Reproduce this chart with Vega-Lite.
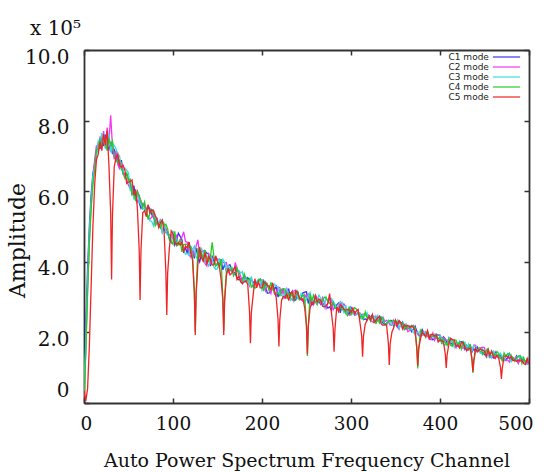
{
"$schema": "https://vega.github.io/schema/vega-lite/v6.json",
"width": 445,
"height": 353,
"autosize": {"type": "none"},
"padding": {"left": 84, "top": 50, "right": 16, "bottom": 69},
"background": "white",
"title": {"text": "x 10⁵", "anchor": "start", "frame": "group", "font": "DejaVu Serif", "fontSize": 20, "fontWeight": "normal", "color": "#111", "dx": -54, "offset": 8},
"config": {"view": {"stroke": null}},
"data": {"values": [
{"x":0,"C1":0.40,"C2":0.20,"C3":0.30,"C4":0.20,"C5":0.35},
{"x":2,"C1":2.10,"C2":1.50,"C3":1.70,"C4":1.40,"C5":0.05},
{"x":4,"C1":3.80,"C2":3.20,"C3":3.40,"C4":3.10,"C5":0.40},
{"x":6,"C1":5.00,"C2":4.60,"C3":4.80,"C4":4.50,"C5":1.60},
{"x":8,"C1":5.90,"C2":5.60,"C3":5.70,"C4":5.50,"C5":3.30},
{"x":10,"C1":6.50,"C2":6.30,"C3":6.40,"C4":6.20,"C5":5.00},
{"x":12,"C1":6.80,"C2":6.90,"C3":6.70,"C4":6.60,"C5":6.20},
{"x":14,"C1":7.10,"C2":7.30,"C3":7.00,"C4":7.20,"C5":6.90},
{"x":16,"C1":7.35,"C2":7.10,"C3":7.42,"C4":7.20,"C5":7.05},
{"x":18,"C1":7.20,"C2":7.55,"C3":7.30,"C4":7.48,"C5":7.40},
{"x":20,"C1":7.52,"C2":7.30,"C3":7.65,"C4":7.25,"C5":7.15},
{"x":22,"C1":7.28,"C2":7.70,"C3":7.45,"C4":7.60,"C5":7.62},
{"x":24,"C1":7.60,"C2":7.25,"C3":7.20,"C4":7.38,"C5":7.30},
{"x":26,"C1":7.30,"C2":7.80,"C3":7.55,"C4":7.15,"C5":7.72},
{"x":28,"C1":7.18,"C2":7.40,"C3":7.62,"C4":7.50,"C5":6.75},
{"x":30,"C1":7.40,"C2":8.15,"C3":7.10,"C4":7.30,"C5":5.36},
{"x":31,"C5":3.50},
{"x":32,"C1":7.05,"C2":7.25,"C3":7.35,"C4":7.42,"C5":5.33},
{"x":34,"C1":7.20,"C2":6.90,"C3":7.30,"C4":7.00,"C5":6.70},
{"x":36,"C1":6.85,"C2":7.15,"C3":7.20,"C4":6.92,"C5":6.95},
{"x":38,"C1":6.95,"C2":6.75,"C3":7.05,"C4":6.80,"C5":7.05},
{"x":40,"C1":6.64,"C2":6.64,"C3":7.00,"C4":6.87,"C5":6.73},
{"x":42,"C1":6.88,"C2":6.83,"C3":6.61,"C4":6.65,"C5":6.68},
{"x":44,"C1":6.49,"C2":6.56,"C3":6.55,"C4":6.51,"C5":6.73},
{"x":46,"C1":6.50,"C2":6.39,"C3":6.66,"C4":6.36,"C5":6.59},
{"x":48,"C1":6.49,"C2":6.35,"C3":6.60,"C4":6.51,"C5":6.22},
{"x":50,"C1":6.34,"C2":6.16,"C3":6.52,"C4":6.30,"C5":6.26},
{"x":52,"C1":6.24,"C2":6.07,"C3":6.00,"C4":6.34,"C5":6.27},
{"x":54,"C1":5.90,"C2":5.99,"C3":6.15,"C4":5.90,"C5":6.32},
{"x":56,"C1":6.16,"C2":5.89,"C3":5.78,"C4":5.98,"C5":5.89},
{"x":58,"C1":5.85,"C2":5.79,"C3":5.78,"C4":5.72,"C5":6.05},
{"x":60,"C1":5.99,"C2":5.69,"C3":5.99,"C4":6.01,"C5":5.51},
{"x":62,"C1":5.68,"C2":5.91,"C3":5.68,"C4":5.84,"C5":4.35},
{"x":63,"C5":2.92},
{"x":64,"C1":5.51,"C2":5.64,"C3":5.65,"C4":5.74,"C5":4.30},
{"x":66,"C1":5.62,"C2":5.66,"C3":5.49,"C4":5.53,"C5":5.39},
{"x":68,"C1":5.58,"C2":5.60,"C3":5.51,"C4":5.70,"C5":5.45},
{"x":70,"C1":5.48,"C2":5.32,"C3":5.36,"C4":5.48,"C5":5.28},
{"x":72,"C1":5.58,"C2":5.24,"C3":5.31,"C4":5.20,"C5":5.62},
{"x":74,"C1":5.50,"C2":5.21,"C3":5.16,"C4":5.36,"C5":5.38},
{"x":76,"C1":5.35,"C2":5.26,"C3":5.15,"C4":5.48,"C5":5.46},
{"x":78,"C1":5.26,"C2":5.44,"C3":5.02,"C4":5.38,"C5":5.46},
{"x":80,"C1":5.16,"C2":5.09,"C3":5.34,"C4":5.02,"C5":5.31},
{"x":82,"C1":5.22,"C2":5.19,"C3":5.08,"C4":5.11,"C5":5.20},
{"x":84,"C1":4.99,"C2":5.08,"C3":5.14,"C4":5.08,"C5":4.97},
{"x":86,"C1":5.00,"C2":5.21,"C3":5.18,"C4":4.96,"C5":5.12},
{"x":88,"C1":4.89,"C2":4.82,"C3":4.78,"C4":5.18,"C5":5.18},
{"x":90,"C1":4.93,"C2":5.02,"C3":5.11,"C4":5.02,"C5":4.86},
{"x":92,"C1":4.83,"C2":4.95,"C3":4.83,"C4":5.06,"C5":3.70},
{"x":93,"C5":2.49},
{"x":94,"C1":4.84,"C2":4.82,"C3":4.75,"C4":4.93,"C5":3.68},
{"x":96,"C1":4.65,"C2":4.76,"C3":4.74,"C4":4.61,"C5":4.41},
{"x":98,"C1":4.55,"C2":4.77,"C3":4.61,"C4":4.59,"C5":4.88},
{"x":100,"C1":4.83,"C2":4.70,"C3":4.88,"C4":4.50,"C5":4.79},
{"x":102,"C1":4.48,"C2":4.59,"C3":4.70,"C4":4.86,"C5":4.54},
{"x":104,"C1":4.61,"C2":4.77,"C3":4.65,"C4":4.45,"C5":4.49},
{"x":106,"C1":4.81,"C2":4.48,"C3":4.50,"C4":4.48,"C5":4.54},
{"x":108,"C1":4.72,"C2":4.63,"C3":4.56,"C4":4.61,"C5":4.47},
{"x":110,"C1":4.63,"C2":4.70,"C3":4.54,"C4":4.28,"C5":4.55},
{"x":112,"C1":4.25,"C2":4.85,"C3":4.38,"C4":4.49,"C5":4.27},
{"x":114,"C1":4.41,"C2":4.57,"C3":4.21,"C4":4.50,"C5":4.45},
{"x":116,"C1":4.24,"C2":4.56,"C3":4.24,"C4":4.49,"C5":4.40},
{"x":118,"C1":4.56,"C2":4.20,"C3":4.18,"C4":4.41,"C5":4.56},
{"x":120,"C1":4.26,"C2":4.13,"C3":4.44,"C4":4.42,"C5":4.26},
{"x":122,"C1":4.34,"C2":4.34,"C3":4.34,"C4":4.16,"C5":4.04},
{"x":124,"C1":4.10,"C2":4.15,"C3":4.44,"C4":3.15,"C5":3.10},
{"x":125,"C4":2.02,"C5":1.93},
{"x":126,"C1":4.39,"C2":4.45,"C3":4.14,"C4":3.14,"C5":3.09},
{"x":128,"C1":4.14,"C2":4.62,"C3":4.05,"C4":4.39,"C5":3.93},
{"x":130,"C1":4.00,"C2":4.16,"C3":4.25,"C4":4.15,"C5":4.42},
{"x":132,"C1":4.23,"C2":4.29,"C3":4.38,"C4":4.25,"C5":4.11},
{"x":134,"C1":4.01,"C2":4.31,"C3":4.26,"C4":4.04,"C5":4.02},
{"x":136,"C1":4.31,"C2":3.95,"C3":4.02,"C4":4.33,"C5":4.27},
{"x":138,"C1":4.24,"C2":3.88,"C3":3.96,"C4":4.10,"C5":3.92},
{"x":140,"C1":4.24,"C2":4.24,"C3":3.88,"C4":4.01,"C5":4.15},
{"x":142,"C1":3.88,"C2":3.93,"C3":4.15,"C4":4.11,"C5":4.08},
{"x":144,"C1":4.15,"C2":4.08,"C3":4.09,"C4":4.55,"C5":3.91},
{"x":146,"C1":4.01,"C2":4.12,"C3":3.85,"C4":4.15,"C5":3.92},
{"x":148,"C1":3.90,"C2":4.04,"C3":3.79,"C4":3.88,"C5":4.17},
{"x":150,"C1":3.94,"C2":4.08,"C3":3.80,"C4":3.97,"C5":4.00},
{"x":152,"C1":3.92,"C2":4.05,"C3":4.10,"C4":3.84,"C5":3.89},
{"x":154,"C1":4.07,"C2":4.00,"C3":3.88,"C4":4.07,"C5":3.51},
{"x":156,"C1":3.77,"C2":3.98,"C3":4.07,"C4":2.98,"C5":2.92},
{"x":157,"C4":2.05,"C5":1.93},
{"x":158,"C1":3.93,"C2":3.97,"C3":3.98,"C4":2.96,"C5":2.90},
{"x":160,"C1":3.74,"C2":3.98,"C3":3.74,"C4":3.72,"C5":3.61},
{"x":162,"C1":3.89,"C2":3.71,"C3":3.89,"C4":3.76,"C5":3.83},
{"x":164,"C1":3.92,"C2":3.82,"C3":3.81,"C4":3.74,"C5":3.63},
{"x":166,"C1":3.75,"C2":3.72,"C3":3.85,"C4":3.82,"C5":3.67},
{"x":168,"C1":3.70,"C2":3.68,"C3":3.75,"C4":3.60,"C5":3.79},
{"x":170,"C1":3.69,"C2":3.98,"C3":3.79,"C4":3.69,"C5":3.85},
{"x":172,"C1":3.52,"C2":3.79,"C3":3.73,"C4":3.82,"C5":3.50},
{"x":174,"C1":3.49,"C2":3.72,"C3":3.76,"C4":3.61,"C5":3.59},
{"x":176,"C1":3.52,"C2":3.59,"C3":3.68,"C4":3.43,"C5":3.44},
{"x":178,"C1":3.54,"C2":3.40,"C3":3.72,"C4":3.44,"C5":3.38},
{"x":180,"C1":3.55,"C2":3.60,"C3":3.41,"C4":3.66,"C5":3.44},
{"x":182,"C1":3.44,"C2":3.47,"C3":3.56,"C4":3.53,"C5":3.46},
{"x":184,"C1":3.55,"C2":3.48,"C3":3.44,"C4":3.48,"C5":3.36},
{"x":186,"C1":3.49,"C2":3.32,"C3":3.35,"C4":3.52,"C5":2.57},
{"x":187,"C5":1.69},
{"x":188,"C1":3.50,"C2":3.56,"C3":3.59,"C4":3.28,"C5":2.56},
{"x":190,"C1":3.41,"C2":3.34,"C3":3.27,"C4":3.34,"C5":3.04},
{"x":192,"C1":3.44,"C2":3.34,"C3":3.44,"C4":3.25,"C5":3.52},
{"x":194,"C1":3.38,"C2":3.40,"C3":3.45,"C4":3.31,"C5":3.26},
{"x":196,"C1":3.48,"C2":3.39,"C3":3.41,"C4":3.50,"C5":3.43},
{"x":198,"C1":3.51,"C2":3.34,"C3":3.47,"C4":3.48,"C5":3.26},
{"x":200,"C1":3.24,"C2":3.33,"C3":3.19,"C4":3.49,"C5":3.26},
{"x":202,"C1":3.46,"C2":3.38,"C3":3.30,"C4":3.17,"C5":3.42},
{"x":204,"C1":3.30,"C2":3.18,"C3":3.28,"C4":3.43,"C5":3.40},
{"x":206,"C1":3.11,"C2":3.36,"C3":3.35,"C4":3.36,"C5":3.32},
{"x":208,"C1":3.12,"C2":3.19,"C3":3.25,"C4":3.20,"C5":3.32},
{"x":210,"C1":3.15,"C2":3.10,"C3":3.22,"C4":3.42,"C5":3.21},
{"x":212,"C1":3.39,"C2":3.35,"C3":3.29,"C4":3.21,"C5":3.37},
{"x":214,"C1":3.21,"C2":3.09,"C3":3.37,"C4":3.14,"C5":3.19},
{"x":216,"C1":3.30,"C2":3.04,"C3":3.30,"C4":3.10,"C5":2.98},
{"x":218,"C1":3.00,"C2":3.28,"C3":3.29,"C4":3.11,"C5":2.37},
{"x":219,"C5":1.60},
{"x":220,"C1":3.18,"C2":3.27,"C3":3.04,"C4":3.05,"C5":2.36},
{"x":222,"C1":3.08,"C2":3.08,"C3":3.08,"C4":3.22,"C5":2.91},
{"x":224,"C1":3.24,"C2":3.20,"C3":2.97,"C4":3.24,"C5":3.02},
{"x":226,"C1":2.98,"C2":2.94,"C3":3.17,"C4":3.23,"C5":2.99},
{"x":228,"C1":3.15,"C2":3.23,"C3":3.22,"C4":2.95,"C5":3.09},
{"x":230,"C1":3.22,"C2":3.10,"C3":3.03,"C4":3.11,"C5":2.90},
{"x":232,"C1":3.02,"C2":2.98,"C3":2.91,"C4":3.00,"C5":3.12},
{"x":234,"C1":3.16,"C2":2.92,"C3":2.97,"C4":3.13,"C5":3.15},
{"x":236,"C1":2.90,"C2":3.18,"C3":3.12,"C4":2.89,"C5":2.93},
{"x":238,"C1":2.92,"C2":3.20,"C3":3.14,"C4":3.03,"C5":3.17},
{"x":240,"C1":3.17,"C2":3.08,"C3":2.96,"C4":3.16,"C5":3.12},
{"x":242,"C1":2.94,"C2":2.97,"C3":3.00,"C4":2.93,"C5":2.98},
{"x":244,"C1":2.96,"C2":2.93,"C3":3.10,"C4":3.00,"C5":2.92},
{"x":246,"C1":3.12,"C2":2.88,"C3":3.06,"C4":3.06,"C5":2.95},
{"x":248,"C1":3.14,"C2":3.07,"C3":2.85,"C4":3.02,"C5":2.69},
{"x":250,"C1":3.15,"C2":2.98,"C3":2.95,"C4":2.15,"C5":2.18},
{"x":251,"C4":1.33,"C5":1.38},
{"x":252,"C1":2.82,"C2":3.08,"C3":3.03,"C4":2.14,"C5":2.17},
{"x":254,"C1":3.00,"C2":2.81,"C3":3.13,"C4":3.09,"C5":2.69},
{"x":256,"C1":2.78,"C2":2.94,"C3":2.87,"C4":2.89,"C5":2.85},
{"x":258,"C1":2.83,"C2":2.79,"C3":3.04,"C4":3.05,"C5":2.81},
{"x":260,"C1":3.04,"C2":3.06,"C3":2.93,"C4":2.86,"C5":3.04},
{"x":262,"C1":2.85,"C2":2.98,"C3":2.91,"C4":2.78,"C5":2.88},
{"x":264,"C1":2.88,"C2":2.95,"C3":3.06,"C4":2.91,"C5":2.94},
{"x":266,"C1":2.79,"C2":2.82,"C3":2.97,"C4":2.90,"C5":2.92},
{"x":268,"C1":2.84,"C2":2.99,"C3":2.80,"C4":2.87,"C5":2.74},
{"x":270,"C1":2.76,"C2":2.86,"C3":2.70,"C4":3.00,"C5":2.73},
{"x":272,"C1":2.77,"C2":2.68,"C3":3.00,"C4":2.98,"C5":2.75},
{"x":274,"C1":2.69,"C2":2.84,"C3":2.86,"C4":2.89,"C5":2.82},
{"x":276,"C1":2.72,"C2":2.97,"C3":2.96,"C4":2.83,"C5":3.10},
{"x":278,"C1":2.63,"C2":2.91,"C3":2.97,"C4":2.77,"C5":2.56},
{"x":280,"C1":2.89,"C2":2.64,"C3":2.86,"C4":2.84,"C5":2.11},
{"x":281,"C5":1.45},
{"x":282,"C1":2.70,"C2":2.73,"C3":2.80,"C4":2.68,"C5":2.10},
{"x":284,"C1":2.78,"C2":2.74,"C3":2.65,"C4":2.71,"C5":2.72},
{"x":286,"C1":2.83,"C2":2.66,"C3":2.79,"C4":2.65,"C5":2.59},
{"x":288,"C1":2.55,"C2":2.86,"C3":2.86,"C4":2.71,"C5":2.78},
{"x":290,"C1":2.83,"C2":2.76,"C3":2.85,"C4":2.64,"C5":2.74},
{"x":292,"C1":2.62,"C2":2.81,"C3":2.54,"C4":2.67,"C5":2.65},
{"x":294,"C1":2.59,"C2":2.73,"C3":2.78,"C4":2.54,"C5":2.63},
{"x":296,"C1":2.59,"C2":2.50,"C3":2.57,"C4":2.48,"C5":2.65},
{"x":298,"C1":2.51,"C2":2.50,"C3":2.72,"C4":2.72,"C5":2.63},
{"x":300,"C1":2.71,"C2":2.50,"C3":2.66,"C4":2.51,"C5":2.57},
{"x":302,"C1":2.61,"C2":2.70,"C3":2.52,"C4":2.59,"C5":2.68},
{"x":304,"C1":2.59,"C2":2.48,"C3":2.50,"C4":2.70,"C5":2.52},
{"x":306,"C1":2.51,"C2":2.50,"C3":2.53,"C4":2.66,"C5":2.61},
{"x":308,"C1":2.55,"C2":2.58,"C3":2.50,"C4":2.61,"C5":2.65},
{"x":310,"C1":2.54,"C2":2.40,"C3":2.55,"C4":2.40,"C5":2.29},
{"x":312,"C1":2.45,"C2":2.51,"C3":2.39,"C4":2.49,"C5":1.90},
{"x":313,"C5":1.31},
{"x":314,"C1":2.36,"C2":2.52,"C3":2.49,"C4":2.39,"C5":1.89},
{"x":316,"C1":2.38,"C2":2.52,"C3":2.47,"C4":2.58,"C5":2.24},
{"x":318,"C1":2.35,"C2":2.48,"C3":2.56,"C4":2.41,"C5":2.34},
{"x":320,"C1":2.49,"C2":2.48,"C3":2.39,"C4":2.45,"C5":2.45},
{"x":322,"C1":2.44,"C2":2.34,"C3":2.43,"C4":2.32,"C5":2.35},
{"x":324,"C1":2.49,"C2":2.30,"C3":2.46,"C4":2.48,"C5":2.51},
{"x":326,"C1":2.33,"C2":2.29,"C3":2.46,"C4":2.34,"C5":2.28},
{"x":328,"C1":2.27,"C2":2.46,"C3":2.36,"C4":2.26,"C5":2.35},
{"x":330,"C1":2.39,"C2":2.33,"C3":2.48,"C4":2.39,"C5":2.42},
{"x":332,"C1":2.46,"C2":2.39,"C3":2.31,"C4":2.27,"C5":2.44},
{"x":334,"C1":2.40,"C2":2.28,"C3":2.27,"C4":2.44,"C5":2.24},
{"x":336,"C1":2.26,"C2":2.43,"C3":2.40,"C4":2.40,"C5":2.20},
{"x":338,"C1":2.23,"C2":2.31,"C3":2.21,"C4":2.22,"C5":2.22},
{"x":340,"C1":2.26,"C2":2.34,"C3":2.20,"C4":2.23,"C5":2.21},
{"x":342,"C1":2.32,"C2":2.30,"C3":2.35,"C4":2.31,"C5":1.69},
{"x":343,"C5":1.08},
{"x":344,"C1":2.33,"C2":2.21,"C3":2.28,"C4":2.34,"C5":1.68},
{"x":346,"C1":2.34,"C2":2.21,"C3":2.21,"C4":2.29,"C5":2.01},
{"x":348,"C1":2.19,"C2":2.35,"C3":2.23,"C4":2.33,"C5":2.13},
{"x":350,"C1":2.24,"C2":2.26,"C3":2.22,"C4":2.31,"C5":2.35},
{"x":352,"C1":2.15,"C2":2.19,"C3":2.34,"C4":2.29,"C5":2.20},
{"x":354,"C1":2.32,"C2":2.09,"C3":2.12,"C4":2.27,"C5":2.33},
{"x":356,"C1":2.21,"C2":2.26,"C3":2.24,"C4":2.27,"C5":2.28},
{"x":358,"C1":2.29,"C2":2.11,"C3":2.10,"C4":2.27,"C5":2.10},
{"x":360,"C1":2.08,"C2":2.17,"C3":2.22,"C4":2.09,"C5":2.22},
{"x":362,"C1":2.11,"C2":2.16,"C3":2.25,"C4":2.18,"C5":2.17},
{"x":364,"C1":2.10,"C2":2.02,"C3":2.13,"C4":2.11,"C5":2.20},
{"x":366,"C1":2.17,"C2":2.06,"C3":2.11,"C4":2.10,"C5":2.15},
{"x":368,"C1":2.02,"C2":2.16,"C3":2.11,"C4":2.20,"C5":2.18},
{"x":370,"C1":2.09,"C2":2.20,"C3":1.99,"C4":2.18,"C5":2.14},
{"x":372,"C1":2.18,"C2":1.95,"C3":1.97,"C4":2.13,"C5":2.04},
{"x":374,"C1":2.03,"C2":2.02,"C3":2.00,"C4":1.51,"C5":1.54},
{"x":375,"C4":0.98,"C5":1.05},
{"x":376,"C1":1.91,"C2":1.92,"C3":2.01,"C4":1.50,"C5":1.53},
{"x":378,"C1":1.92,"C2":1.88,"C3":2.02,"C4":2.06,"C5":1.80},
{"x":380,"C1":2.08,"C2":1.92,"C3":1.94,"C4":1.96,"C5":2.02},
{"x":382,"C1":1.98,"C2":1.93,"C3":2.02,"C4":1.97,"C5":1.94},
{"x":384,"C1":1.96,"C2":2.02,"C3":1.98,"C4":1.86,"C5":1.88},
{"x":386,"C1":1.98,"C2":1.89,"C3":1.99,"C4":2.03,"C5":2.05},
{"x":388,"C1":1.82,"C2":1.82,"C3":1.93,"C4":1.88,"C5":1.83},
{"x":390,"C1":1.86,"C2":1.79,"C3":1.94,"C4":1.87,"C5":1.94},
{"x":392,"C1":1.79,"C2":1.98,"C3":1.89,"C4":1.90,"C5":1.94},
{"x":394,"C1":1.82,"C2":1.78,"C3":1.95,"C4":1.89,"C5":1.90},
{"x":396,"C1":1.95,"C2":1.90,"C3":1.96,"C4":1.84,"C5":1.93},
{"x":398,"C1":1.92,"C2":1.76,"C3":1.76,"C4":1.83,"C5":1.73},
{"x":400,"C1":1.92,"C2":1.76,"C3":1.91,"C4":1.85,"C5":1.79},
{"x":402,"C1":1.68,"C2":1.86,"C3":1.79,"C4":1.70,"C5":1.77},
{"x":404,"C1":1.87,"C2":1.85,"C3":1.65,"C4":1.83,"C5":1.73},
{"x":406,"C1":1.81,"C2":1.78,"C3":1.65,"C4":1.70,"C5":1.37},
{"x":407,"C5":0.99},
{"x":408,"C1":1.70,"C2":1.78,"C3":1.67,"C4":1.63,"C5":1.36},
{"x":410,"C1":1.84,"C2":1.69,"C3":1.84,"C4":1.81,"C5":1.68},
{"x":412,"C1":1.70,"C2":1.82,"C3":1.72,"C4":1.63,"C5":1.83},
{"x":414,"C1":1.66,"C2":1.69,"C3":1.79,"C4":1.61,"C5":1.79},
{"x":416,"C1":1.64,"C2":1.69,"C3":1.58,"C4":1.78,"C5":1.79},
{"x":418,"C1":1.64,"C2":1.56,"C3":1.71,"C4":1.78,"C5":1.61},
{"x":420,"C1":1.61,"C2":1.70,"C3":1.64,"C4":1.64,"C5":1.64},
{"x":422,"C1":1.73,"C2":1.64,"C3":1.75,"C4":1.72,"C5":1.56},
{"x":424,"C1":1.74,"C2":1.58,"C3":1.56,"C4":1.53,"C5":1.70},
{"x":426,"C1":1.72,"C2":1.55,"C3":1.67,"C4":1.73,"C5":1.72},
{"x":428,"C1":1.52,"C2":1.62,"C3":1.72,"C4":1.63,"C5":1.58},
{"x":430,"C1":1.63,"C2":1.48,"C3":1.57,"C4":1.54,"C5":1.49},
{"x":432,"C1":1.55,"C2":1.63,"C3":1.67,"C4":1.50,"C5":1.53},
{"x":434,"C1":1.63,"C2":1.64,"C3":1.47,"C4":1.67,"C5":1.55},
{"x":436,"C1":1.45,"C2":1.48,"C3":1.48,"C4":1.20,"C5":1.22},
{"x":437,"C4":0.85,"C5":0.89},
{"x":438,"C1":1.54,"C2":1.64,"C3":1.63,"C4":1.19,"C5":1.21},
{"x":440,"C1":1.44,"C2":1.64,"C3":1.57,"C4":1.49,"C5":1.55},
{"x":442,"C1":1.58,"C2":1.46,"C3":1.48,"C4":1.50,"C5":1.45},
{"x":444,"C1":1.48,"C2":1.47,"C3":1.45,"C4":1.57,"C5":1.50},
{"x":446,"C1":1.42,"C2":1.57,"C3":1.40,"C4":1.53,"C5":1.53},
{"x":448,"C1":1.44,"C2":1.58,"C3":1.53,"C4":1.37,"C5":1.49},
{"x":450,"C1":1.37,"C2":1.57,"C3":1.45,"C4":1.43,"C5":1.47},
{"x":452,"C1":1.36,"C2":1.32,"C3":1.51,"C4":1.47,"C5":1.32},
{"x":454,"C1":1.36,"C2":1.45,"C3":1.31,"C4":1.54,"C5":1.51},
{"x":456,"C1":1.34,"C2":1.28,"C3":1.39,"C4":1.34,"C5":1.36},
{"x":458,"C1":1.32,"C2":1.31,"C3":1.28,"C4":1.46,"C5":1.47},
{"x":460,"C1":1.28,"C2":1.45,"C3":1.46,"C4":1.37,"C5":1.32},
{"x":462,"C1":1.44,"C2":1.31,"C3":1.40,"C4":1.35,"C5":1.26},
{"x":464,"C1":1.32,"C2":1.33,"C3":1.38,"C4":1.46,"C5":1.35},
{"x":466,"C1":1.36,"C2":1.27,"C3":1.29,"C4":1.40,"C5":1.27},
{"x":468,"C1":1.35,"C2":1.30,"C3":1.41,"C4":1.27,"C5":1.00},
{"x":469,"C5":0.68},
{"x":470,"C1":1.22,"C2":1.24,"C3":1.31,"C4":1.20,"C5":0.99},
{"x":472,"C1":1.21,"C2":1.25,"C3":1.19,"C4":1.42,"C5":1.32},
{"x":474,"C1":1.23,"C2":1.20,"C3":1.31,"C4":1.32,"C5":1.34},
{"x":476,"C1":1.28,"C2":1.22,"C3":1.40,"C4":1.39,"C5":1.30},
{"x":478,"C1":1.39,"C2":1.16,"C3":1.36,"C4":1.40,"C5":1.26},
{"x":480,"C1":1.21,"C2":1.35,"C3":1.17,"C4":1.33,"C5":1.31},
{"x":482,"C1":1.28,"C2":1.22,"C3":1.24,"C4":1.29,"C5":1.20},
{"x":484,"C1":1.24,"C2":1.27,"C3":1.24,"C4":1.18,"C5":1.22},
{"x":486,"C1":1.33,"C2":1.31,"C3":1.19,"C4":1.28,"C5":1.18},
{"x":488,"C1":1.13,"C2":1.11,"C3":1.33,"C4":1.33,"C5":1.22},
{"x":490,"C1":1.27,"C2":1.32,"C3":1.27,"C4":1.34,"C5":1.19},
{"x":492,"C1":1.25,"C2":1.18,"C3":1.31,"C4":1.12,"C5":1.21},
{"x":494,"C1":1.19,"C2":1.15,"C3":1.25,"C4":1.29,"C5":1.12},
{"x":496,"C1":1.18,"C2":1.17,"C3":1.10,"C4":1.15,"C5":1.09},
{"x":498,"C1":1.20,"C2":1.11,"C3":1.10,"C4":1.26,"C5":1.26},
{"x":500,"C1":1.19,"C2":1.29,"C3":1.08,"C4":1.24,"C5":1.09}
]},
"transform": [
  {"fold": ["C1", "C2", "C3", "C4", "C5"], "as": ["series", "amp"]},
  {"filter": "isValid(datum.amp)"}
],
"layer": [
  {
    "mark": {"type": "line", "strokeWidth": 1.3, "clip": true},
    "encoding": {
      "x": {"field": "x", "type": "quantitative",
        "scale": {"domain": [0, 500], "nice": false, "zero": false},
        "axis": {"orient": "bottom", "values": [0, 100, 200, 300, 400, 500], "title": "Auto Power Spectrum Frequency Channel",
          "grid": false, "tickSize": -5, "tickWidth": 1.5, "tickColor": "#333", "domainColor": "#333", "domainWidth": 1.8,
          "labelFont": "DejaVu Serif", "labelFontSize": 18.5, "labelColor": "#111", "labelPadding": 16,
          "labelFlush": true, "labelFlushOffset": 4,
          "titleFont": "DejaVu Serif", "titleFontSize": 19, "titleFontWeight": "normal", "titleColor": "#111", "titlePadding": 19}},
      "y": {"field": "amp", "type": "quantitative",
        "scale": {"domain": [0, 10], "nice": false, "zero": false},
        "axis": {"orient": "left", "values": [0, 2, 4, 6, 8, 10], "title": "Amplitude",
          "labelExpr": "datum.value === 0 ? '0' : format(datum.value, '.1f')",
          "grid": false, "tickSize": -5, "tickWidth": 1.5, "tickColor": "#333", "domainColor": "#333", "domainWidth": 1.8,
          "labelFont": "DejaVu Serif", "labelFontSize": 20, "labelColor": "#111", "labelPadding": 20,
          "labelBaseline": {"condition": {"test": "datum.value === 0", "value": "bottom"}, "value": "top"},
          "labelOffset": -3,
          "titleFont": "DejaVu Serif", "titleFontSize": 22, "titleFontWeight": "normal", "titleColor": "#111",
          "titleBaseline": "alphabetic", "titleX": -60, "titleY": 190}},
      "color": {"field": "series", "type": "nominal",
        "scale": {"domain": ["C1", "C2", "C3", "C4", "C5"], "range": ["#3535f5", "#f535f0", "#35dede", "#25cc25", "#f02424"]},
        "legend": {"orient": "none", "legendX": 417.5, "legendY": 2, "title": null, "padding": 0,
          "symbolType": "M-3.4,0H3.4", "symbolSize": 64, "symbolStrokeWidth": 1.2,
          "labelAlign": "right", "labelOffset": -22.6,
          "labelFont": "DejaVu Sans", "labelFontSize": 9, "labelColor": "#222", "rowPadding": 0,
          "labelExpr": "datum.label + ' mode'"}}
    }
  },
  {
    "transform": [{"filter": "datum.x === 500"}],
    "mark": {"type": "point", "opacity": 0},
    "encoding": {
      "x": {"field": "x", "type": "quantitative",
        "scale": {"domain": [0, 500], "nice": false, "zero": false},
        "axis": {"orient": "top", "values": [0, 100, 200, 300, 400, 500], "labels": false, "title": null, "grid": false,
          "tickSize": -5, "tickWidth": 1.5, "tickColor": "#333", "domainColor": "#333", "domainWidth": 1.8}},
      "y": {"field": "amp", "type": "quantitative",
        "scale": {"domain": [0, 10], "nice": false, "zero": false},
        "axis": {"orient": "right", "values": [0, 2, 4, 6, 8, 10], "labels": false, "title": null, "grid": false,
          "tickSize": -5, "tickWidth": 1.5, "tickColor": "#333", "domainColor": "#333", "domainWidth": 1.8}}
    }
  }
],
"resolve": {"axis": {"x": "independent", "y": "independent"}}
}
